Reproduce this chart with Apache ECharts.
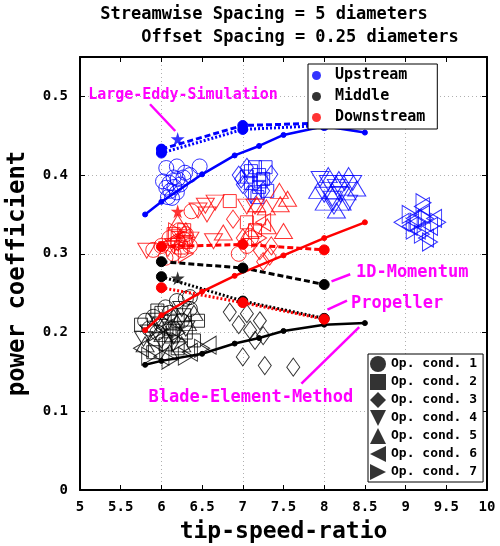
<!DOCTYPE html>
<html>
<head>
<meta charset="utf-8">
<script src="https://cdn.jsdelivr.net/npm/echarts/dist/echarts.min.js"></script>
<style>
  html, body { margin: 0; padding: 0; background: #fff; }
  #chart { width: 500px; height: 546px; }
</style>
</head>
<body>
<div id="chart"></div>
<script>
var MONO = '"DejaVu Sans Mono", monospace';
var BLUE = '#0000ff', RED = '#ff0000', BLACK = '#000000', MAGENTA = '#ff00ff';

// tick labels
var xTicks = [5, 5.5, 6, 6.5, 7, 7.5, 8, 8.5, 9, 9.5, 10];
var yTicks = [0, 0.1, 0.2, 0.3, 0.4, 0.5];

// model curves: [tip-speed-ratio, power coefficient]
var upBEM = [[5.8, 0.350], [6.0, 0.366], [6.5, 0.401], [6.9, 0.425], [7.2, 0.437], [7.5, 0.451], [8.0, 0.462], [8.5, 0.454]];
var upMomentum = [[6, 0.433], [7, 0.463], [8, 0.466]];
var upPropeller = [[6, 0.428], [7, 0.458], [8, 0.463]];
var upLES = [[6.2, 0.446]];

var midBEM = [[5.8, 0.159], [6.0, 0.164], [6.5, 0.173], [6.9, 0.186], [7.2, 0.193], [7.5, 0.202], [8.0, 0.210], [8.5, 0.212]];
var midMomentum = [[6, 0.290], [7, 0.282], [8, 0.261]];
var midPropeller = [[6, 0.271], [7, 0.240], [8, 0.218]];
var midLES = [[6.2, 0.269]];

var dnBEM = [[5.8, 0.203], [6.0, 0.222], [6.5, 0.252], [6.9, 0.272], [7.5, 0.298], [8.0, 0.320], [8.5, 0.340]];
var dnMomentum = [[6, 0.309], [7, 0.312], [8, 0.305]];
var dnPropeller = [[6, 0.257], [7, 0.238], [8, 0.217]];
var dnLES = [[6.2, 0.354]];

// measured clouds, one array per operating condition
var upOp1 = [[6.06, 0.409], [6.19, 0.411], [6.29, 0.403], [6.47, 0.411], [6.02, 0.392], [6.15, 0.397], [6.23, 0.388], [6.11, 0.380], [6.19, 0.378], [6.06, 0.384], [6.27, 0.397], [6.13, 0.371], [6.20, 0.395], [6.10, 0.390], [6.16, 0.385], [6.35, 0.400], [6.08, 0.372]];
var upOp2 = [[7.10, 0.405], [7.15, 0.410], [7.20, 0.400], [7.25, 0.395], [7.10, 0.390], [7.20, 0.385], [7.30, 0.380], [7.15, 0.378], [7.22, 0.392], [7.28, 0.410], [7.05, 0.398], [7.18, 0.372]];
var upOp3 = [[6.95, 0.400], [7.00, 0.388], [7.05, 0.410], [7.35, 0.401], [7.10, 0.376], [6.98, 0.395], [7.25, 0.380]];
var upOp4 = [[7.95, 0.395], [8.05, 0.390], [8.15, 0.385], [8.25, 0.390], [8.10, 0.370], [8.20, 0.375], [8.35, 0.390], [8.00, 0.375], [8.30, 0.365], [8.12, 0.360]];
var upOp5 = [[7.92, 0.380], [8.05, 0.400], [8.18, 0.395], [8.30, 0.400], [8.10, 0.380], [8.22, 0.365], [8.40, 0.383], [8.00, 0.365], [8.15, 0.355], [8.28, 0.378]];
var upOp6 = [[8.95, 0.340], [9.10, 0.345], [9.20, 0.350], [9.30, 0.335], [9.15, 0.330], [9.25, 0.320], [9.05, 0.335], [9.35, 0.345], [9.20, 0.360]];
var upOp7 = [[9.05, 0.350], [9.15, 0.340], [9.25, 0.345], [9.40, 0.340], [9.20, 0.325], [9.30, 0.315], [9.10, 0.330], [9.22, 0.365]];

var midOp1 = [[5.80, 0.215], [5.90, 0.220], [6.00, 0.210], [6.10, 0.225], [6.19, 0.240], [6.30, 0.243], [6.35, 0.245], [6.15, 0.205], [6.25, 0.215], [5.95, 0.200], [6.35, 0.230], [6.05, 0.232], [5.85, 0.205]];
var midOp2 = [[5.75, 0.210], [6.00, 0.225], [6.10, 0.205], [6.20, 0.215], [6.30, 0.200], [6.05, 0.185], [5.90, 0.175], [6.20, 0.180], [6.40, 0.190], [6.45, 0.215], [5.95, 0.228], [6.12, 0.195], [6.28, 0.222]];
var midOp3 = [[6.84, 0.226], [7.05, 0.224], [7.21, 0.215], [7.09, 0.203], [7.25, 0.196], [7.00, 0.169], [7.27, 0.158], [7.62, 0.156], [7.15, 0.190], [6.95, 0.210]];
var midOp4 = [[5.85, 0.200], [6.00, 0.190], [6.15, 0.195], [6.30, 0.205], [5.95, 0.215], [6.25, 0.230], [6.08, 0.212], [5.78, 0.192]];
var midOp5 = [[5.80, 0.185], [6.10, 0.175], [6.25, 0.185], [5.90, 0.210], [6.15, 0.220], [6.40, 0.225], [6.02, 0.198], [6.32, 0.212]];
var midOp6 = [[5.75, 0.180], [6.00, 0.170], [6.35, 0.175], [6.58, 0.184], [6.05, 0.205], [5.92, 0.188]];
var midOp7 = [[5.85, 0.170], [6.10, 0.165], [6.30, 0.170], [6.50, 0.180], [6.20, 0.200], [6.22, 0.188]];

var dnOp1 = [[6.00, 0.310], [6.10, 0.320], [6.20, 0.315], [6.25, 0.305], [6.15, 0.300], [6.30, 0.325], [6.05, 0.295], [6.35, 0.310], [6.37, 0.354], [6.22, 0.330], [5.90, 0.305], [7.05, 0.310], [7.10, 0.320], [6.95, 0.300], [6.28, 0.318]];
var dnOp2 = [[6.84, 0.367], [6.20, 0.320], [6.30, 0.315], [6.15, 0.325], [7.15, 0.330], [7.20, 0.345], [6.28, 0.330], [7.05, 0.340], [6.24, 0.308]];
var dnOp3 = [[6.88, 0.344], [7.21, 0.304], [7.33, 0.297], [7.25, 0.290], [7.35, 0.310], [7.00, 0.320]];
var dnOp4 = [[6.54, 0.361], [6.66, 0.365], [6.56, 0.350], [6.45, 0.355], [5.82, 0.304], [6.35, 0.318], [6.15, 0.310], [6.64, 0.316], [7.05, 0.360], [7.15, 0.360], [6.08, 0.306]];
var dnOp5 = [[7.46, 0.363], [7.50, 0.329], [6.76, 0.327], [7.29, 0.359], [7.17, 0.363], [7.09, 0.329], [6.30, 0.330], [6.20, 0.340], [7.55, 0.370], [7.30, 0.335], [7.45, 0.380]];
var dnOp6 = [[6.25, 0.320], [7.25, 0.340], [6.12, 0.315]];
var dnOp7 = [[6.30, 0.300], [7.20, 0.320], [6.18, 0.328]];

var groupNames = ['Upstream', 'Middle', 'Downstream'];
var opNames = ['Op. cond. 1', 'Op. cond. 2', 'Op. cond. 3', 'Op. cond. 4', 'Op. cond. 5', 'Op. cond. 6', 'Op. cond. 7'];

// marker shapes for the seven operating conditions
var TRI_DOWN = 'path://M0,0 L10,0 L5,10 Z';
var TRI_LEFT = 'path://M10,0 L10,10 L0,5 Z';
var TRI_RIGHT = 'path://M0,0 L0,10 L10,5 Z';
var STAR = 'path://M50,0 L61,35 L98,35 L68,57 L79,91 L50,70 L21,91 L32,57 L2,35 L39,35 Z';
var opShapes = [
  { symbol: 'circle', size: 15 },
  { symbol: 'rect', size: 13 },
  { symbol: 'diamond', size: [13, 18] },
  { symbol: TRI_DOWN, size: [18, 15] },
  { symbol: 'triangle', size: [18, 15] },
  { symbol: TRI_LEFT, size: [15, 18] },
  { symbol: TRI_RIGHT, size: [15, 18] }
];

function cloud(data, color, op) {
  return {
    type: 'scatter', data: data, silent: true, z: 2,
    symbol: opShapes[op].symbol, symbolSize: opShapes[op].size,
    itemStyle: { color: 'rgba(0,0,0,0)', borderColor: color, borderWidth: 1 }
  };
}
function curve(data, color, kind) {
  var s = {
    type: 'line', data: data, silent: true, z: 3,
    symbol: 'circle', symbolSize: kind === 'bem' ? 5 : 10, showSymbol: true,
    itemStyle: { color: color, borderColor: color },
    lineStyle: { color: color, width: kind === 'bem' ? 2.5 : 3 }
  };
  if (kind === 'mom') s.lineStyle.type = [6, 3];
  if (kind === 'prop') s.lineStyle.type = [2, 2];
  return s;
}
function stars(data, color) {
  return {
    type: 'scatter', data: data, silent: true, z: 4,
    symbol: STAR, symbolSize: 14, itemStyle: { color: color }
  };
}

var series = [];
[upOp1, upOp2, upOp3, upOp4, upOp5, upOp6, upOp7].forEach(function (d, i) { series.push(cloud(d, BLUE, i)); });
[dnOp1, dnOp2, dnOp3, dnOp4, dnOp5, dnOp6, dnOp7].forEach(function (d, i) { series.push(cloud(d, RED, i)); });
[midOp1, midOp2, midOp3, midOp4, midOp5, midOp6, midOp7].forEach(function (d, i) { series.push(cloud(d, BLACK, i)); });

series.push(curve(upBEM, BLUE, 'bem'), curve(upPropeller, BLUE, 'prop'), curve(upMomentum, BLUE, 'mom'));
series.push(curve(midBEM, BLACK, 'bem'), curve(midPropeller, BLACK, 'prop'), curve(midMomentum, BLACK, 'mom'));
series.push(curve(dnBEM, RED, 'bem'), curve(dnPropeller, RED, 'prop'), curve(dnMomentum, RED, 'mom'));
series.push(stars(upLES, BLUE), stars(midLES, BLACK), stars(dnLES, RED));

// empty series only feeding the two legends
[BLUE, BLACK, RED].forEach(function (c, i) {
  series.push({ type: 'scatter', name: groupNames[i], data: [], itemStyle: { color: c } });
});
opNames.forEach(function (n) {
  series.push({ type: 'scatter', name: n, data: [], itemStyle: { color: BLACK } });
});

var axisText = { color: '#000', fontFamily: MONO, fontWeight: 'bold', fontSize: 14 };
var frame = { show: true, onZero: false, lineStyle: { color: '#000', width: 2 } };
var innerTick = { show: true, inside: true, length: 5, lineStyle: { color: '#000', width: 1 } };
var dotGrid = { show: true, lineStyle: { color: '#b0b0b0', type: [1, 3], width: 1 } };

var option = {
  animation: false,
  backgroundColor: '#fff',
  grid: { left: 80, right: 13, top: 57, bottom: 56, containLabel: false, outerBoundsMode: 'none' },
  xAxis: [
    {
      type: 'value', min: 5, max: 10, interval: 0.5, position: 'bottom',
      axisLine: frame, axisTick: innerTick, splitLine: { show: false },
      axisLabel: Object.assign({ margin: 10, formatter: function (v) { return xTicks.indexOf(v) >= 0 ? String(v) : ''; } }, axisText),
      name: 'tip-speed-ratio', nameLocation: 'middle', nameGap: 31,
      nameTextStyle: { color: '#000', fontFamily: MONO, fontWeight: 'bold', fontSize: 23 }
    },
    {
      type: 'value', min: 5, max: 10, interval: 0.5, position: 'top',
      axisLine: frame, axisTick: innerTick, axisLabel: { show: false }, splitLine: { show: false }
    },
    {
      type: 'value', min: 5, max: 10, interval: 1, position: 'bottom',
      axisLine: { show: false }, axisTick: { show: false }, axisLabel: { show: false }, splitLine: dotGrid
    }
  ],
  yAxis: [
    {
      type: 'value', min: 0, max: 0.55, interval: 0.1, position: 'left',
      axisLine: frame, axisTick: innerTick, splitLine: dotGrid,
      axisLabel: Object.assign({ margin: 12, formatter: function (v) {
        var r = Math.round(v * 10) / 10;
        return (yTicks.indexOf(r) >= 0 && Math.abs(v - r) < 1e-6) ? String(r) : '';
      } }, axisText),
      name: 'power coefficient', nameLocation: 'middle', nameGap: 50,
      nameTextStyle: { color: '#000', fontFamily: MONO, fontWeight: 'bold', fontSize: 24 }
    },
    {
      type: 'value', min: 0, max: 0.55, interval: 0.1, position: 'right',
      axisLine: frame, axisTick: innerTick, axisLabel: { show: false }, splitLine: { show: false }
    }
  ],
  legend: [
    {
      data: groupNames.map(function (n) { return { name: n, icon: 'circle' }; }),
      orient: 'vertical', left: 308, top: 64, selectedMode: false,
      itemWidth: 9, itemHeight: 9, itemGap: 6,
      padding: [4, 12, 4, 4], backgroundColor: '#fff', borderColor: '#000', borderWidth: 1, borderRadius: 0,
      textStyle: { color: '#000', fontFamily: MONO, fontWeight: 'bold', fontSize: 15, padding: [0, 0, 0, 9] }
    },
    {
      data: opNames.map(function (n, i) { return { name: n, icon: opShapes[i].symbol }; }),
      orient: 'vertical', left: 368, top: 354, selectedMode: false,
      itemWidth: 16, itemHeight: 16, itemGap: 2,
      padding: [2, 6, 2, 2], backgroundColor: '#fff', borderColor: '#000', borderWidth: 1, borderRadius: 0,
      textStyle: { color: '#000', fontFamily: MONO, fontWeight: 'bold', fontSize: 13 }
    }
  ],
  series: series
};

var chart = echarts.init(document.getElementById('chart'), null, { renderer: 'canvas' });
chart.setOption(option);

// titles and magenta annotations, placed through the axes
var annoTexts = [
  { text: 'Large-Eddy-Simulation', at: [6.265, 0.501], align: 'center', size: 15 },
  { text: '1D-Momentum', at: [8.39, 0.276], align: 'left', size: 17 },
  { text: 'Propeller', at: [8.33, 0.237], align: 'left', size: 17 },
  { text: 'Blade-Element-Method', at: [7.10, 0.118], align: 'center', size: 17 }
];
var annoLines = [
  [[5.86, 0.490], [6.17, 0.456]],
  [[8.09, 0.265], [8.32, 0.274]],
  [[8.04, 0.229], [8.28, 0.2405]],
  [[7.72, 0.135], [8.43, 0.207]]
];
function px(p) { return chart.convertToPixel({ xAxisIndex: 0, yAxisIndex: 0 }, p); }

var titleFont = 'bold 17px ' + MONO;
var graphics = [
  { type: 'text', style: { text: 'Streamwise Spacing = 5 diameters', x: 264, y: 15, textAlign: 'center', textVerticalAlign: 'middle', fill: '#000', font: titleFont } },
  { type: 'text', style: { text: 'Offset Spacing = 0.25 diameters', x: 300, y: 38, textAlign: 'center', textVerticalAlign: 'middle', fill: '#000', font: titleFont } }
];
annoLines.forEach(function (l) {
  var a = px(l[0]), b = px(l[1]);
  graphics.push({ type: 'line', z: 10, shape: { x1: a[0], y1: a[1], x2: b[0], y2: b[1] }, style: { stroke: MAGENTA, lineWidth: 2.5 } });
});
annoTexts.forEach(function (t) {
  var p = px(t.at);
  graphics.push({ type: 'text', z: 10, style: { text: t.text, x: p[0], y: p[1], textAlign: t.align, textVerticalAlign: 'middle', fill: MAGENTA, font: 'bold ' + t.size + 'px ' + MONO } });
});
chart.setOption({ graphic: graphics });
</script>
</body>
</html>
